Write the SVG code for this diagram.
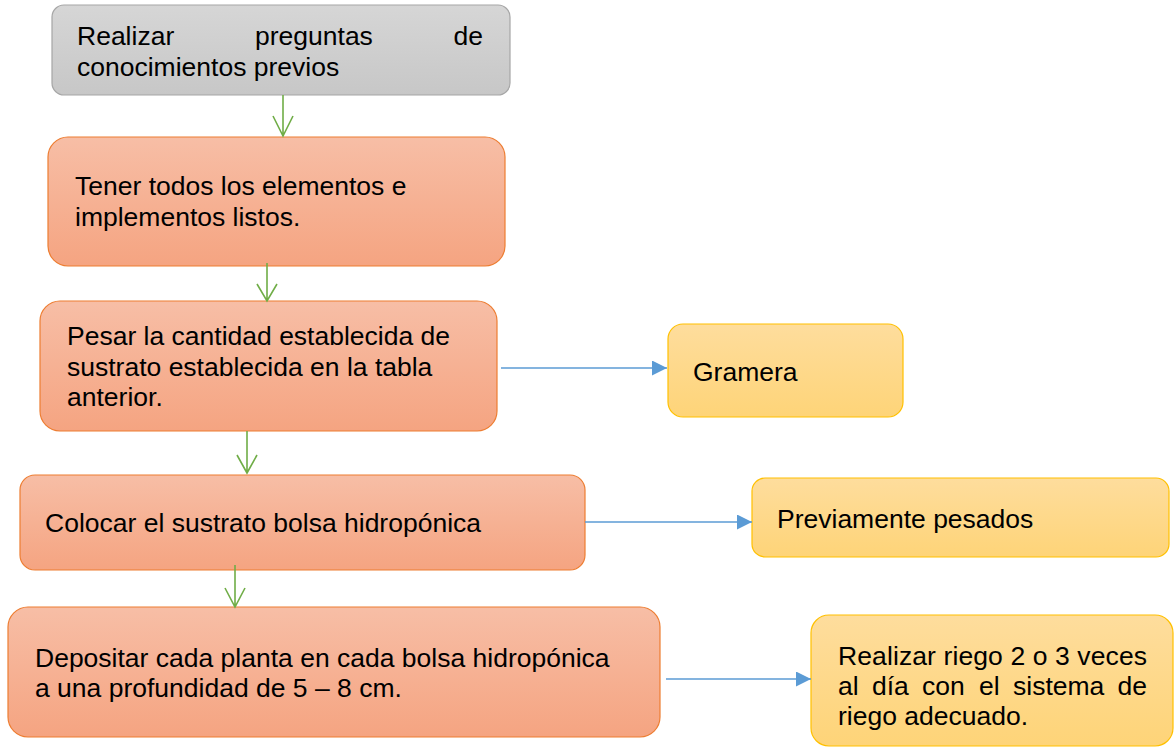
<svg xmlns="http://www.w3.org/2000/svg" width="1175" height="748" viewBox="0 0 1175 748">
  <defs>
    <linearGradient id="gGray" x1="0" y1="0" x2="0" y2="1">
      <stop offset="0" stop-color="#d6d6d6"/>
      <stop offset="1" stop-color="#c7c7c7"/>
    </linearGradient>
    <linearGradient id="gOrange" x1="0" y1="0" x2="0" y2="1">
      <stop offset="0" stop-color="#f7bea6"/>
      <stop offset="1" stop-color="#f5a481"/>
    </linearGradient>
    <linearGradient id="gYellow" x1="0" y1="0" x2="0" y2="1">
      <stop offset="0" stop-color="#fedd9d"/>
      <stop offset="1" stop-color="#fed478"/>
    </linearGradient>
    <marker id="blueHead" markerWidth="15" markerHeight="15" refX="15" refY="7.5" orient="auto" markerUnits="userSpaceOnUse">
      <path d="M0,0 L15,7.5 L0,15 Z" fill="#5b9bd5"/>
    </marker>
  </defs>
  <style>
    .gray { fill: url(#gGray); stroke: #a6a6a6; stroke-width: 1.2; }
    .orange { fill: url(#gOrange); stroke: #ed7d31; stroke-width: 1.2; }
    .yellow { fill: url(#gYellow); stroke: #ffc000; stroke-width: 1.2; }
    text { font-family: "Liberation Sans", Arial, sans-serif; font-size: 26.5px; fill: #000; }
    .green { stroke: #70ad47; stroke-width: 1.6; fill: none; }
    .blue { stroke: #5b9bd5; stroke-width: 1.4; fill: none; }
  </style>

  <g id="n1">
    <rect class="gray" x="52" y="5" width="458" height="90" rx="12"/>
    <text x="77" y="45">Realizar</text>
    <text x="255" y="45">preguntas</text>
    <text x="483" y="45" text-anchor="end">de</text>
    <text x="77" y="76">conocimientos previos</text>
  </g>

  <g id="n2">
    <rect class="orange" x="48" y="137" width="457" height="129" rx="20"/>
    <text x="75" y="195">Tener todos los elementos e</text>
    <text x="75" y="226">implementos listos.</text>
  </g>

  <g id="n3">
    <rect class="orange" x="40" y="301" width="457" height="130" rx="20"/>
    <text x="67" y="345">Pesar la cantidad establecida de</text>
    <text x="67" y="375.5">sustrato establecida en la tabla</text>
    <text x="67" y="406">anterior.</text>
  </g>

  <g id="n4">
    <rect class="yellow" x="668" y="324" width="235" height="93" rx="15"/>
    <text x="693" y="381">Gramera</text>
  </g>

  <g id="n5">
    <rect class="orange" x="20" y="475" width="565" height="95" rx="15"/>
    <text x="45" y="532">Colocar el sustrato bolsa hidropónica</text>
  </g>

  <g id="n6">
    <rect class="yellow" x="752" y="478" width="417" height="79" rx="13"/>
    <text x="777" y="528">Previamente pesados</text>
  </g>

  <g id="n7">
    <rect class="orange" x="8" y="607" width="652" height="130" rx="20"/>
    <text x="35" y="667">Depositar cada planta en cada bolsa hidropónica</text>
    <text x="35" y="697">a una profundidad de 5 – 8 cm.</text>
  </g>

  <g id="n8">
    <rect class="yellow" x="811" y="615" width="362" height="131" rx="18"/>
    <text x="838" y="665" textLength="309" lengthAdjust="spacing">Realizar riego 2 o 3 veces</text>
    <text y="695"><tspan x="838">al</tspan><tspan x="872">día</tspan><tspan x="922">con</tspan><tspan x="979">el</tspan><tspan x="1013">sistema</tspan></text>
    <text x="1147" y="695" text-anchor="end">de</text>
    <text x="838" y="725">riego adecuado.</text>
  </g>

  <g id="connectors">
    <path class="green" d="M283,95 V136 M273,116 L283,136 L293,116"/>
    <path class="green" d="M267,263 V301 M257,284 L267,301 L277,284"/>
    <path class="green" d="M247,431 V473 M237,455 L247,473 L257,455"/>
    <path class="green" d="M235,565 V607 M225,588 L235,607 L245,588"/>
    <path class="blue" d="M501,368 H667" marker-end="url(#blueHead)"/>
    <path class="blue" d="M585,522 H752" marker-end="url(#blueHead)"/>
    <path class="blue" d="M666,679 H811" marker-end="url(#blueHead)"/>
  </g>
</svg>
